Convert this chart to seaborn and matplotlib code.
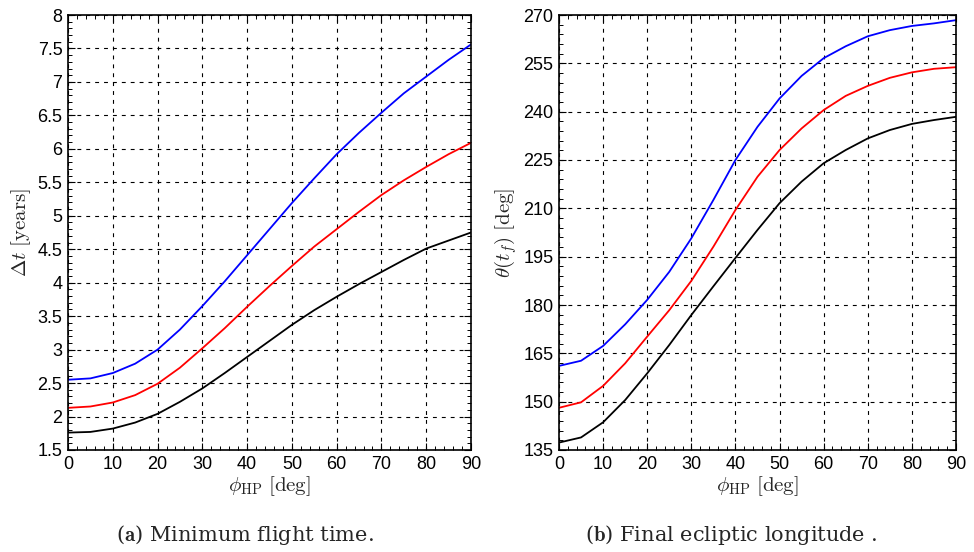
import numpy as np
import pandas as pd
import matplotlib
matplotlib.use("Agg")
import matplotlib.pyplot as plt
import seaborn as sns
from matplotlib.ticker import MultipleLocator

phi = [0, 5, 10, 15, 20, 25, 30, 35, 40, 45, 50, 55, 60, 65, 70, 75, 80, 85, 90]

dt_blue = [2.55, 2.57, 2.65, 2.79, 3.00, 3.30, 3.65, 4.02, 4.41, 4.80, 5.19, 5.56, 5.92, 6.24, 6.54, 6.83, 7.08, 7.33, 7.56]
dt_red = [2.13, 2.15, 2.21, 2.32, 2.49, 2.73, 3.02, 3.32, 3.64, 3.95, 4.25, 4.54, 4.80, 5.06, 5.31, 5.53, 5.73, 5.92, 6.09]
dt_black = [1.76, 1.77, 1.82, 1.91, 2.04, 2.22, 2.42, 2.65, 2.89, 3.13, 3.37, 3.59, 3.79, 3.98, 4.16, 4.34, 4.51, 4.63, 4.75]

th_blue = [161.1, 162.7, 167.3, 174.0, 181.6, 190.3, 200.7, 212.6, 225.0, 235.3, 244.1, 251.1, 256.6, 260.3, 263.4, 265.3, 266.6, 267.4, 268.4]
th_red = [148.1, 149.8, 154.9, 161.9, 170.2, 178.4, 187.5, 198.1, 209.5, 219.8, 228.1, 234.8, 240.5, 244.9, 248.0, 250.5, 252.2, 253.3, 253.8]
th_black = [137.3, 138.9, 143.6, 150.5, 158.8, 167.6, 176.9, 185.8, 194.6, 203.3, 211.6, 218.3, 224.0, 228.1, 231.7, 234.3, 236.2, 237.4, 238.4]

colors = {"blue": "#0000ff", "red": "#ff0000", "black": "#000000"}

def make_df(b, r, k):
    return pd.DataFrame({
        "phi": phi * 3,
        "val": b + r + k,
        "case": ["blue"] * len(phi) + ["red"] * len(phi) + ["black"] * len(phi),
    })

sns.set_style("white")
plt.rcParams["mathtext.fontset"] = "cm"
plt.rcParams["font.family"] = ["Liberation Sans", "DejaVu Sans"]

fig = plt.figure(figsize=(9.74, 5.52), dpi=100)
ax1 = fig.add_axes([68/974, 1-450/552, 403/974, 435/552])
ax2 = fig.add_axes([559/974, 1-450/552, 397/974, 435/552])

def style(ax, ylim, ymaj, ymin, ylabel):
    ax.set_xlim(0, 90)
    ax.set_ylim(*ylim)
    ax.xaxis.set_major_locator(MultipleLocator(10))
    ax.xaxis.set_minor_locator(MultipleLocator(2))
    ax.yaxis.set_major_locator(MultipleLocator(ymaj))
    ax.yaxis.set_minor_locator(MultipleLocator(ymin))
    ax.tick_params(which="both", direction="in", top=True, right=True, bottom=True, left=True,
                   colors="black", labelsize=13, width=0.8)
    ax.tick_params(which="major", length=5, pad=4)
    ax.tick_params(which="minor", length=3, width=0.7)
    ax.grid(True, which="major", color="black", linestyle=(0, (3.5, 4.5)), linewidth=0.8)
    for s in ax.spines.values():
        s.set_color("black")
        s.set_linewidth(1.2)
        s.set_visible(True)
    ax.set_xlabel(r"$\phi_{\rm HP}$ $[\rm deg]$", fontsize=15, labelpad=1)
    ax.set_ylabel(ylabel, fontsize=15, labelpad=3)

sns.lineplot(data=make_df(dt_blue, dt_red, dt_black), x="phi", y="val", hue="case",
             palette=colors, ax=ax1, legend=False, linewidth=1.3)
style(ax1, (1.5, 8), 0.5, 0.1, r"$\Delta t$ $[\rm years]$")
ax1.yaxis.set_major_formatter(matplotlib.ticker.FuncFormatter(lambda v, p: f"{v:g}"))

sns.lineplot(data=make_df(th_blue, th_red, th_black), x="phi", y="val", hue="case",
             palette=colors, ax=ax2, legend=False, linewidth=1.3)
style(ax2, (135, 270), 15, 3, r"$\theta(t_f)$ $[\rm deg]$")

cap_font = ["DejaVu Serif"]
fig.text(245/974, 1-535/552, r"($\mathbf{a}$) Minimum flight time.", ha="center", va="center",
         fontsize=15, family=cap_font)
fig.text(731/974, 1-535/552, r"($\mathbf{b}$) Final ecliptic longitude .", ha="center", va="center",
         fontsize=15, family=cap_font)

fig.savefig("out.png", dpi=100, facecolor="white")
